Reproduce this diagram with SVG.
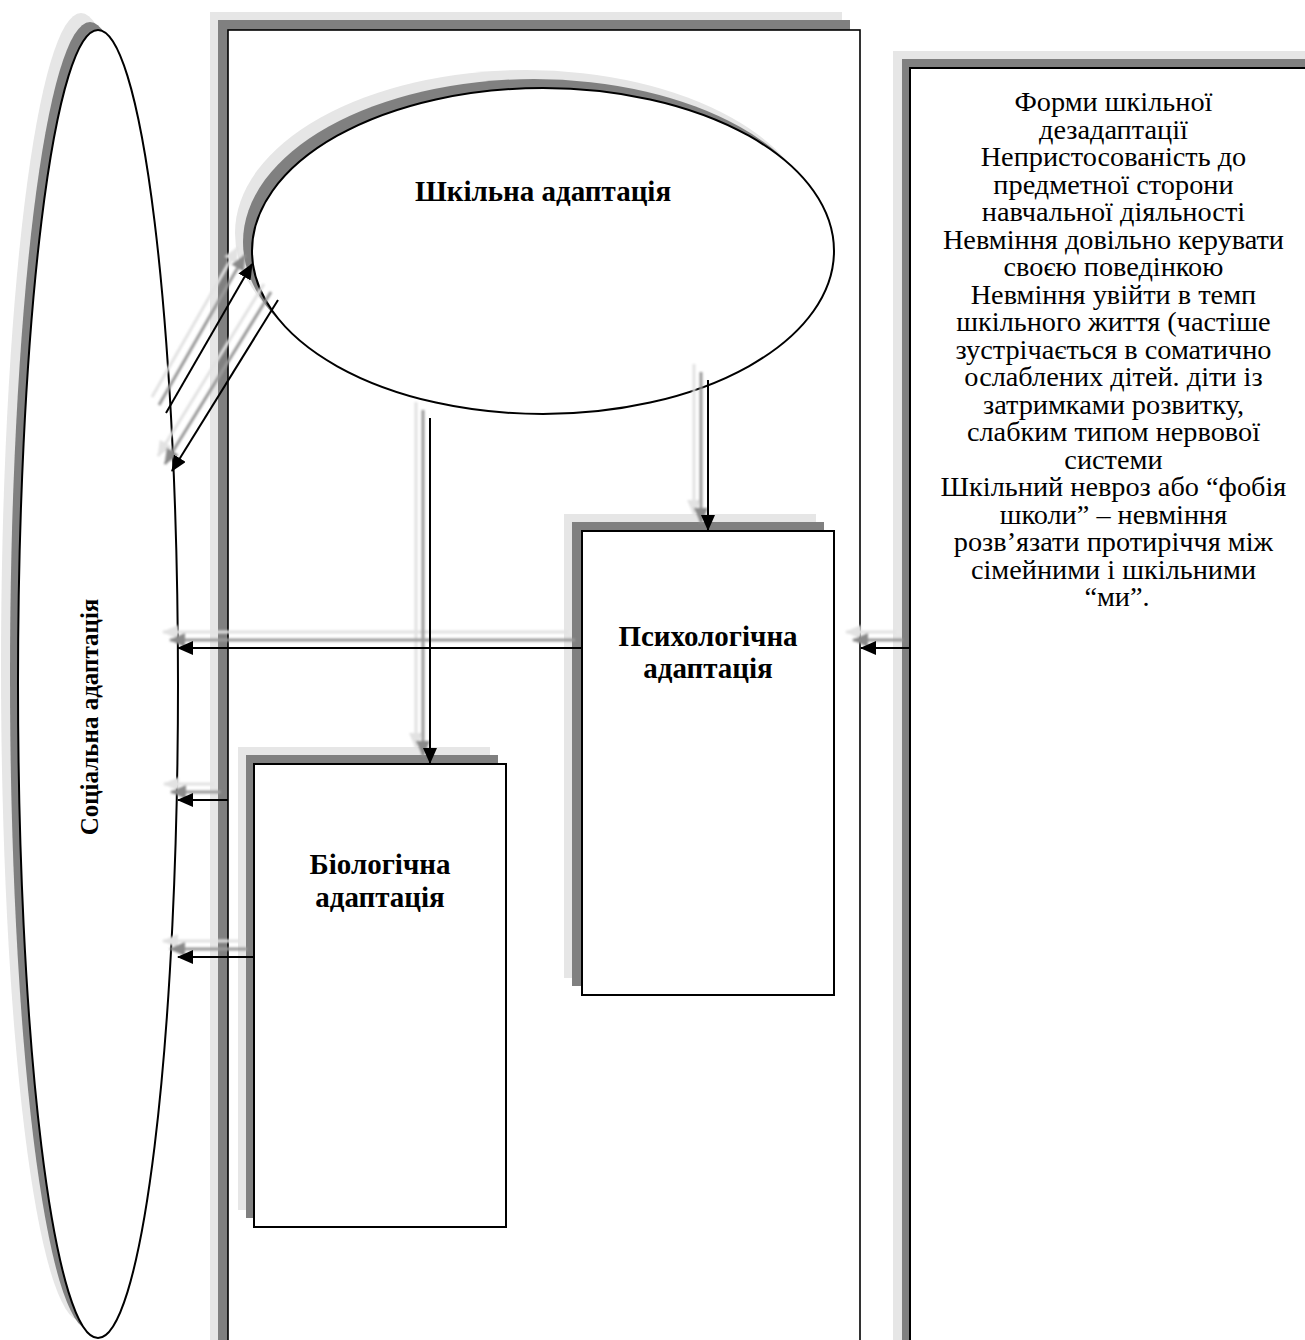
<svg xmlns="http://www.w3.org/2000/svg" width="1305" height="1340" viewBox="0 0 1305 1340">
<style>
.sh1{fill:#e6e6e6;stroke:none}
.sh2{fill:#808080;stroke:none}
.box{fill:#fff;stroke:#000;stroke-width:2}
.t{font-family:"Liberation Serif","Times New Roman",serif;font-size:28.3px;fill:#000;text-anchor:middle}
.b{font-family:"Liberation Serif","Times New Roman",serif;font-size:29px;font-weight:bold;fill:#000;text-anchor:middle}
.c{fill:none;stroke:#000;stroke-width:2;marker-end:url(#ah)}
.c1{fill:none;stroke:#e2e2e2;stroke-width:3;marker-end:url(#ah1);filter:url(#bl)}
.c2{fill:none;stroke:#9a9a9a;stroke-width:3;marker-end:url(#ah2);filter:url(#bl)}
</style>
<defs>
<filter id="bl" filterUnits="userSpaceOnUse" x="0" y="0" width="1305" height="1340"><feGaussianBlur stdDeviation="0.8"/></filter>
<marker id="ah" markerUnits="userSpaceOnUse" markerWidth="16" markerHeight="14" viewBox="0 0 16 14" refX="15" refY="7" orient="auto"><path d="M0,0 L16,7 L0,14 z" fill="#000"/></marker>
<marker id="ah1" markerUnits="userSpaceOnUse" markerWidth="16" markerHeight="14" viewBox="0 0 16 14" refX="15" refY="7" orient="auto"><path d="M0,0 L16,7 L0,14 z" fill="#e2e2e2"/></marker>
<marker id="ah2" markerUnits="userSpaceOnUse" markerWidth="16" markerHeight="14" viewBox="0 0 16 14" refX="15" refY="7" orient="auto"><path d="M0,0 L16,7 L0,14 z" fill="#8a8a8a"/></marker>
</defs>
<rect width="1305" height="1340" fill="#fff"/>

<g id="social">
<ellipse class="sh1" cx="81" cy="667" rx="80" ry="654"/>
<ellipse class="sh2" cx="90" cy="676" rx="80" ry="654"/>
<ellipse class="box" cx="98" cy="684" rx="80" ry="654"/>
<text class="b" transform="translate(98,717) rotate(-90)" style="font-size:25px">Соціальна адаптація</text>
</g>

<g id="container">
<rect class="sh1" x="210" y="12" width="632" height="1340"/>
<rect class="sh2" x="218" y="20" width="632" height="1340"/>
<rect class="box" x="228" y="30" width="632" height="1340" style="stroke-width:1.6"/>
</g>

<g id="forms">
<rect class="sh1" x="893" y="51" width="420" height="1300"/>
<rect class="sh2" x="902" y="59" width="420" height="1300"/>
<rect class="box" x="910" y="68" width="420" height="1300"/>
<text class="t">
<tspan x="1117" y="111">Форми шкільної</tspan>
<tspan x="1117" y="138.5">дезадаптації</tspan>
<tspan x="1117" y="166">Непристосованість до</tspan>
<tspan x="1117" y="193.5">предметної сторони</tspan>
<tspan x="1117" y="221">навчальної діяльності</tspan>
<tspan x="1117" y="248.5">Невміння довільно керувати</tspan>
<tspan x="1117" y="276">своєю поведінкою</tspan>
<tspan x="1117" y="303.5">Невміння увійти в темп</tspan>
<tspan x="1117" y="331">шкільного життя (частіше</tspan>
<tspan x="1117" y="358.5">зустрічається в соматично</tspan>
<tspan x="1117" y="386">ослаблених дітей. діти із</tspan>
<tspan x="1117" y="413.5">затримками розвитку,</tspan>
<tspan x="1117" y="441">слабким типом нервової</tspan>
<tspan x="1117" y="468.5">системи</tspan>
<tspan x="1117" y="496">Шкільний невроз або “фобія</tspan>
<tspan x="1117" y="523.5">школи” – невміння</tspan>
<tspan x="1117" y="551">розв’язати протиріччя між</tspan>
<tspan x="1117" y="578.5">сімейними і шкільними</tspan>
<tspan x="1117" y="606">“ми”.</tspan>
</text>
</g>

<g id="school">
<ellipse class="sh1" cx="526" cy="233" rx="291" ry="163"/>
<ellipse class="sh2" cx="534" cy="242" rx="291" ry="163"/>
<ellipse class="box" cx="543" cy="251" rx="291" ry="163"/>
<text class="b" x="543" y="201">Шкільна адаптація</text>
</g>

<g id="psych">
<rect class="sh1" x="564" y="514" width="252" height="464"/>
<rect class="sh2" x="572" y="522" width="252" height="464"/>
<rect class="box" x="582" y="531" width="252" height="464"/>
<text class="b"><tspan x="708" y="646">Психологічна</tspan><tspan x="708" y="678">адаптація</tspan></text>
</g>

<g id="bio">
<rect class="sh1" x="238" y="747" width="252" height="463"/>
<rect class="sh2" x="246" y="755" width="252" height="463"/>
<rect class="box" x="254" y="764" width="252" height="463"/>
<text class="b"><tspan x="380" y="874">Біологічна</tspan><tspan x="380" y="907">адаптація</tspan></text>
</g>

<g id="connectors">
<path class="c1" d="M416,402 V748"/>
<path class="c1" d="M694,364 V515"/>
<path class="c1" d="M568,632 H163"/>
<path class="c1" d="M896,632 H846"/>
<path class="c1" d="M214,784 H164"/>
<path class="c1" d="M240,941 H163"/>
<path class="c1" d="M152,397 L238,247"/>
<path class="c1" d="M264,284 L158,456"/>
<path class="c2" d="M423,410 V756"/>
<path class="c2" d="M701,372 V523"/>
<path class="c2" d="M575,640 H170"/>
<path class="c2" d="M903,640 H853"/>
<path class="c2" d="M221,792 H171"/>
<path class="c2" d="M247,949 H170"/>
<path class="c2" d="M159,405 L245,255"/>
<path class="c2" d="M271,292 L165,464"/>
<path class="c" d="M430,418 V763"/>
<path class="c" d="M708,380 V530"/>
<path class="c" d="M582,648 H178"/>
<path class="c" d="M910,648 H861"/>
<path class="c" d="M228,800 H178"/>
<path class="c" d="M254,957 H178"/>
<path class="c" d="M166,413 L252,264"/>
<path class="c" d="M278,300 L172,471"/>
</g>
</svg>
